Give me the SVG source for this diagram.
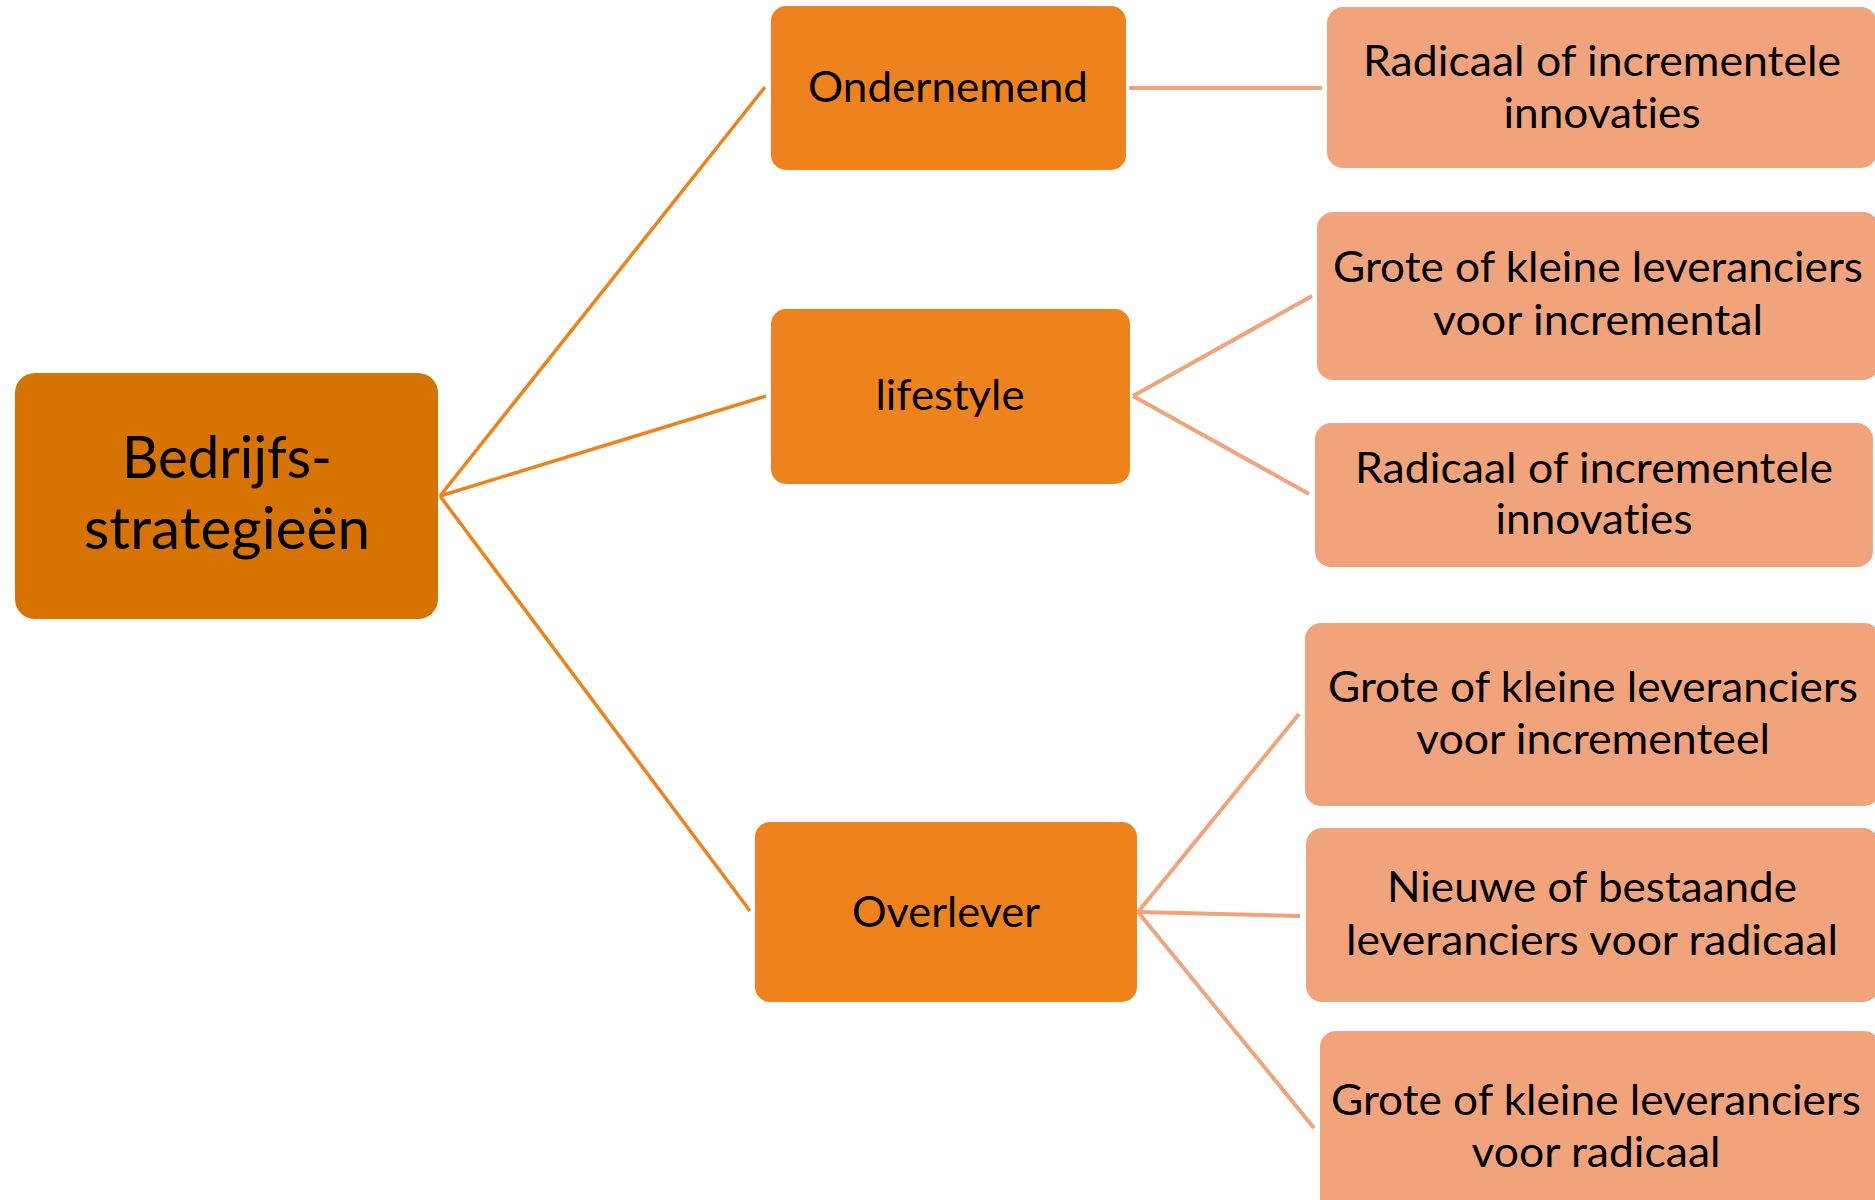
<svg xmlns="http://www.w3.org/2000/svg" width="1875" height="1200" viewBox="0 0 1875 1200">
  <style>
    .root { fill: #D77300; }
    .lvl1 { fill: #EE821C; }
    .lvl2 { fill: #F1A47C; }
    .lnk1 { stroke: #EE821C; stroke-width: 3.5; fill: none; }
    .lnk2 { stroke: #F1A47C; stroke-width: 4; fill: none; }
    text { font-family: Lato, "Open Sans", "Liberation Sans", sans-serif; fill: #000000; text-anchor: middle;
           font-variant-ligatures: none; font-feature-settings: "liga" 0, "clig" 0; }
    .t0 { font-size: 58px; }
    .t1 { font-size: 43px; }
    .t2 { font-size: 43px; }
  </style>
  <rect width="1875" height="1200" fill="#FFFFFF"/>

  <!-- connectors -->
  <g id="connectors">
    <line class="lnk1" x1="440" y1="496" x2="765" y2="87"/>
    <line class="lnk1" x1="440" y1="496" x2="766" y2="396"/>
    <line class="lnk1" x1="440" y1="496" x2="750" y2="911"/>
    <line class="lnk2" x1="1129" y1="88" x2="1322" y2="88"/>
    <line class="lnk2" x1="1133" y1="396" x2="1312" y2="296"/>
    <line class="lnk2" x1="1133" y1="396" x2="1309" y2="494"/>
    <line class="lnk2" x1="1138" y1="912" x2="1299" y2="714"/>
    <line class="lnk2" x1="1138" y1="912" x2="1300" y2="916"/>
    <line class="lnk2" x1="1138" y1="912" x2="1314" y2="1128"/>
  </g>

  <!-- central node -->
  <g id="node-bedrijfsstrategieen">
    <rect class="root" x="15" y="373" width="423" height="246" rx="20"/>
    <text class="t0" x="227" y="478" textLength="210" lengthAdjust="spacingAndGlyphs">Bedrijfs-</text>
    <text class="t0" x="227" y="549" textLength="286" lengthAdjust="spacingAndGlyphs">strategieën</text>
  </g>

  <!-- strategy nodes -->
  <g id="node-ondernemend">
    <rect class="lvl1" x="771" y="6" width="355" height="164" rx="15"/>
    <text class="t1" x="948" y="102" textLength="280" lengthAdjust="spacingAndGlyphs">Ondernemend</text>
  </g>
  <g id="node-lifestyle">
    <rect class="lvl1" x="771" y="309" width="359" height="175" rx="15"/>
    <text class="t1" x="950" y="410" textLength="149" lengthAdjust="spacingAndGlyphs">lifestyle</text>
  </g>
  <g id="node-overlever">
    <rect class="lvl1" x="755" y="822" width="382" height="180" rx="15"/>
    <text class="t1" x="946" y="927" textLength="188" lengthAdjust="spacingAndGlyphs">Overlever</text>
  </g>

  <!-- supplier / innovation nodes -->
  <g id="node-ondernemend-1">
    <rect class="lvl2" x="1327" y="7" width="550" height="161" rx="16"/>
    <text class="t2" x="1602" y="76" textLength="478" lengthAdjust="spacingAndGlyphs">Radicaal of incrementele</text>
    <text class="t2" x="1602" y="128" textLength="197" lengthAdjust="spacingAndGlyphs">innovaties</text>
  </g>
  <g id="node-lifestyle-1">
    <rect class="lvl2" x="1317" y="212" width="562" height="168" rx="16"/>
    <text class="t2" x="1598" y="282" textLength="530" lengthAdjust="spacingAndGlyphs">Grote of kleine leveranciers</text>
    <text class="t2" x="1598" y="335" textLength="330" lengthAdjust="spacingAndGlyphs">voor incremental</text>
  </g>
  <g id="node-lifestyle-2">
    <rect class="lvl2" x="1315" y="423" width="558" height="144" rx="16"/>
    <text class="t2" x="1594" y="483" textLength="478" lengthAdjust="spacingAndGlyphs">Radicaal of incrementele</text>
    <text class="t2" x="1594" y="534" textLength="197" lengthAdjust="spacingAndGlyphs">innovaties</text>
  </g>
  <g id="node-overlever-1">
    <rect class="lvl2" x="1305" y="623" width="575" height="183" rx="16"/>
    <text class="t2" x="1593" y="702" textLength="530" lengthAdjust="spacingAndGlyphs">Grote of kleine leveranciers</text>
    <text class="t2" x="1593" y="754" textLength="354" lengthAdjust="spacingAndGlyphs">voor incrementeel</text>
  </g>
  <g id="node-overlever-2">
    <rect class="lvl2" x="1306" y="828" width="573" height="174" rx="16"/>
    <text class="t2" x="1592" y="902" textLength="410" lengthAdjust="spacingAndGlyphs">Nieuwe of bestaande</text>
    <text class="t2" x="1592" y="955" textLength="492" lengthAdjust="spacingAndGlyphs">leveranciers voor radicaal</text>
  </g>
  <g id="node-overlever-3">
    <rect class="lvl2" x="1320" y="1031" width="560" height="200" rx="16"/>
    <text class="t2" x="1596" y="1115" textLength="530" lengthAdjust="spacingAndGlyphs">Grote of kleine leveranciers</text>
    <text class="t2" x="1596" y="1167" textLength="249" lengthAdjust="spacingAndGlyphs">voor radicaal</text>
  </g>
</svg>
